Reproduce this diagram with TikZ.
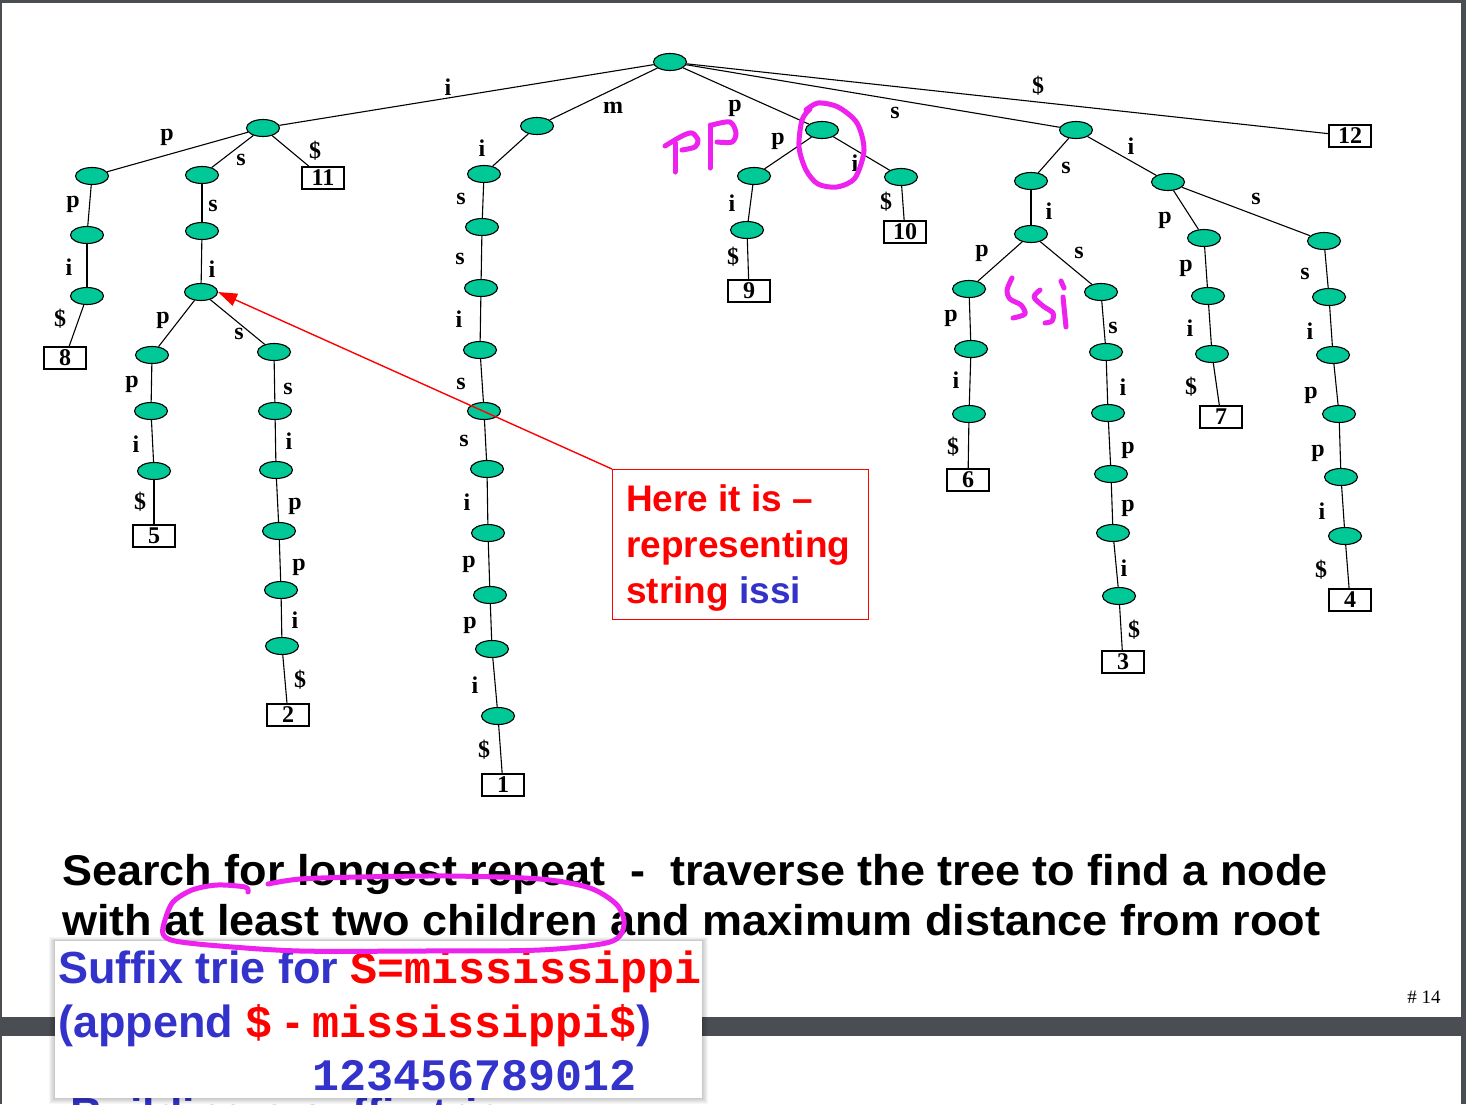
\documentclass[tikz,border=0pt]{standalone}
\usepackage{fontspec}
\usepackage{graphicx}
\setmainfont{Liberation Serif}
\newfontfamily\arial{Liberation Sans}
\newfontfamily\cour{Liberation Mono}
\usetikzlibrary{arrows.meta,shapes.geometric}
\definecolor{tnode}{RGB}{0,200,150}
\definecolor{mag}{RGB}{238,34,238}
\definecolor{dblue}{RGB}{51,51,204}
\definecolor{framec}{RGB}{74,77,81}
\newcommand\TN[2]{\node[tn] (#1) at (#2) {};}
\newcommand\LF[3]{\node[leaf] (#1) at (#2) {#3};}
\newcommand\ED[4]{\draw[edge] (#1) -- (#2) node[lbl] at (#3) {#4};}
\begin{document}
\begin{tikzpicture}[x=1pt,y=-1pt,
  tn/.style={ellipse, draw=black, line width=1.1pt, fill=tnode, minimum width=33pt, minimum height=17pt, inner sep=0pt},
  leaf/.style={draw=black, line width=1.1pt, fill=white, minimum width=42pt, minimum height=22pt, inner sep=0pt, font=\fontsize{24}{26}\selectfont\bfseries},
  lbl/.style={inner sep=0pt, font=\fontsize{24}{26}\selectfont\bfseries},
  edge/.style={line width=1.1pt, black},
  magpen/.style={mag, line width=5pt, line cap=round, line join=round}]
\useasboundingbox (0,0) rectangle (1466,1104);
\fill[white] (0,0) rectangle (1466,1104);
\begin{scope}
\clip (0,0) rectangle (1466,1104);
% frame
\fill[framec] (0,0) rectangle (1466,3);
\fill[framec] (0,0) rectangle (2,1104);
\fill[framec] (1461,0) rectangle (1466,1104);
\fill[framec] (0,1017) rectangle (1466,1036);
% tree nodes
\TN{r}{670,62}
\TN{I}{263,128} \TN{M}{537,126} \TN{P}{822,130} \TN{S}{1076,130}
\LF{L12}{1350,136}{12}
% i branch
\TN{Ip}{92,176} \TN{Is}{202,175} \LF{L11}{323,178}{11}
\TN{Ipp}{87,235} \TN{Ippi}{87,296} \LF{L8}{65,358}{8}
\TN{Iss}{202,231} \TN{Issi}{201,292}
\TN{Issip}{152,355} \TN{Issipp}{151,411} \TN{Issippi}{154,471} \LF{L5}{154,536}{5}
\TN{Isiss}{274,352} \TN{Ia1}{275,411} \TN{Ia2}{276,470} \TN{Ia3}{279,531} \TN{Ia4}{281,590} \TN{Ia5}{282,646} \LF{L2}{288,715}{2}
% m branch
\TN{M1}{484,174} \TN{M2}{482,227} \TN{M3}{481,288} \TN{M4}{480,350} \TN{M5}{484,411}
\TN{M6}{487,469} \TN{M7}{488,533} \TN{M8}{490,595} \TN{M9}{492,649} \TN{M10}{498,716}
\LF{L1}{503,785}{1}
% p branch
\TN{Pp}{754,176} \TN{Pi}{901,177} \TN{Ppi}{747,230} \LF{L9}{749,291}{9} \LF{L10}{905,232}{10}
% s branch
\TN{Ss}{1031,181} \TN{Si}{1168,182} \TN{Ssi}{1031,234} \TN{Ssip}{969,289} \TN{Ssis}{1101,292}
\TN{A1}{971,349} \TN{A2}{969,414} \LF{L6}{968,480}{6}
\TN{B1}{1106,352} \TN{B2}{1108,413} \TN{B3}{1111,474} \TN{B4}{1113,533} \TN{B5}{1119,596} \LF{L3}{1123,662}{3}
\TN{Sip}{1204,238} \TN{Sis}{1324,241}
\TN{C1}{1208,296} \TN{C2}{1212,354} \LF{L7}{1221,417}{7}
\TN{D1}{1329,297} \TN{D2}{1333,355} \TN{D3}{1339,414} \TN{D4}{1341,477} \TN{D5}{1345,536} \LF{L4}{1350,600}{4}
% edges
\ED{r}{I}{448,87}{i} \ED{r}{M}{613,108}{m} \ED{r}{P}{735,108}{p} \ED{r}{S}{895,113}{s} \ED{r}{L12}{1038,86}{\$}
\ED{I}{Ip}{167,137}{p} \ED{I}{Is}{241,160}{s} \ED{I}{L11}{315,151}{\$}
\ED{Ip}{Ipp}{73,204}{p} \ED{Ipp}{Ippi}{69,267}{i} \ED{Ippi}{L8}{60,319}{\$}
\ED{Is}{Iss}{213,206}{s} \ED{Iss}{Issi}{212,269}{i}
\ED{Issi}{Issip}{163,320}{p} \ED{Issi}{Isiss}{239,334}{s}
\ED{Issip}{Issipp}{132,384}{p} \ED{Issipp}{Issippi}{136,444}{i} \ED{Issippi}{L5}{140,502}{\$}
\ED{Isiss}{Ia1}{288,389}{s} \ED{Ia1}{Ia2}{289,441}{i} \ED{Ia2}{Ia3}{295,506}{p} \ED{Ia3}{Ia4}{299,567}{p} \ED{Ia4}{Ia5}{295,620}{i} \ED{Ia5}{L2}{300,680}{\$}
\ED{M}{M1}{482,148}{i} \ED{M1}{M2}{461,199}{s} \ED{M2}{M3}{460,259}{s} \ED{M3}{M4}{459,319}{i} \ED{M4}{M5}{461,384}{s}
\ED{M5}{M6}{464,441}{s} \ED{M6}{M7}{467,502}{i} \ED{M7}{M8}{469,564}{p} \ED{M8}{M9}{470,625}{p} \ED{M9}{M10}{475,685}{i} \ED{M10}{L1}{484,750}{\$}
\ED{P}{Pp}{778,141}{p} \ED{P}{Pi}{855,163}{i} \ED{Pp}{Ppi}{732,203}{i} \ED{Ppi}{L9}{733,257}{\$} \ED{Pi}{L10}{886,202}{\$}
\ED{S}{Ss}{1066,168}{s} \ED{S}{Si}{1131,146}{i} \ED{Ss}{Ssi}{1049,211}{i} \ED{Ssi}{Ssip}{982,253}{p} \ED{Ssi}{Ssis}{1079,253}{s}
\ED{Ssip}{A1}{951,318}{p} \ED{A1}{A2}{956,380}{i} \ED{A2}{L6}{953,447}{\$}
\ED{Ssis}{B1}{1113,328}{s} \ED{B1}{B2}{1123,387}{i} \ED{B2}{B3}{1128,450}{p} \ED{B3}{B4}{1128,508}{p} \ED{B4}{B5}{1124,568}{i} \ED{B5}{L3}{1134,630}{\$}
\ED{Si}{Sip}{1165,220}{p} \ED{Si}{Sis}{1256,199}{s}
\ED{Sip}{C1}{1186,268}{p} \ED{C1}{C2}{1190,328}{i} \ED{C2}{L7}{1191,387}{\$}
\ED{Sis}{D1}{1305,274}{s} \ED{D1}{D2}{1310,331}{i} \ED{D2}{D3}{1311,395}{p} \ED{D3}{D4}{1318,453}{p} \ED{D4}{D5}{1322,511}{i} \ED{D5}{L4}{1321,570}{\$}
% callout
\node[draw=red, line width=1.1pt, minimum width=256pt, minimum height=150pt, inner sep=0pt, anchor=north west] (callout) at (612,469) {};
\node[anchor=north west, align=left, inner sep=0pt, text=red, font=\arial\bfseries\fontsize{37}{46}\selectfont] (calltext) at (626,484) {Here it is –\\representing\\string \textcolor{dblue}{issi}};
\draw[red, line width=1.4pt, -{Triangle[length=19pt,width=13pt]}] (callout.north west) -- (Issi.east);
% main text
\node[anchor=base west, inner sep=0pt, font=\arial\bfseries\fontsize{43}{50}\selectfont] (t1) at (62,885) {\scalebox{1.047}[1]{Search for longest repeat\ \ -\ \ traverse the tree to find a node}};
\node[anchor=base west, inner sep=0pt, font=\arial\bfseries\fontsize{43}{50}\selectfont] (t2) at (62,935) {\scalebox{1.047}[1]{with at least two children and maximum distance from root}};
\node[anchor=center, inner sep=0pt, font=\fontsize{19}{22}\selectfont] (pg) at (1424,997) {\# 14};
% partially hidden heading
\node[anchor=base west, inner sep=0pt, text=dblue, font=\arial\bfseries\fontsize{45}{50}\selectfont] (hidden) at (70,1129) {Building a suffix trie};
% overlay box with shadow
\foreach \k in {1,...,6}{
  \fill[black, opacity=0.035] (55-\k,941-\k*0.6) rectangle (702+\k,1098+\k);
}
\node[fill=white, minimum width=647pt, minimum height=157pt, inner sep=0pt, anchor=north west] (ovl) at (55,941) {};
\node[anchor=base west, inner sep=0pt, font=\fontsize{45}{50}\selectfont\bfseries] (o1) at (58,983) {{\arial\color{dblue}Suffix trie for }{\cour\color{red}S=mississippi}};
\node[anchor=base west, inner sep=0pt, font=\fontsize{45}{50}\selectfont\bfseries] (o2) at (58,1037) {{\arial\color{dblue}(append\ }{\cour\color{red}\$}{\arial\color{red}\ -\ }{\cour\color{red}mississippi\$}{\arial\color{dblue})}};
\node[anchor=base west, inner sep=0pt, font=\fontsize{45}{50}\selectfont\bfseries] (o3) at (58,1090) {\hphantom{\arial(append\ }\hphantom{\cour\$}\hphantom{\arial\ -\ }{\cour\color{dblue}123456789012}};
% magenta annotations
\draw[magpen] (675,143) -- (675,172);
\draw[magpen] plot[smooth] coordinates {(665,146) (682,136) (692,133) (698,140) (695,147) (682,150)};
\draw[magpen] (710,125) -- (710,168);
\draw[magpen] plot[smooth] coordinates {(712,125) (730,122) (736,133) (732,142) (717,142)};
\draw[magpen] plot[smooth] coordinates {(806,110) (818,103) (838,107) (857,123) (864,150) (855,178) (837,187) (818,184) (806,170) (799,147) (802,120) (810,109)};
\draw[magpen] plot[smooth] coordinates {(1012,278) (1007,290) (1010,299) (1021,305) (1025,314) (1013,318)};
\draw[magpen] plot[smooth] coordinates {(1040,290) (1034,297) (1043,306) (1053,313) (1052,321) (1045,323)};
\draw[magpen] (1063,297) -- (1066,327);
\draw[magpen] (1061,281) -- (1064,288);
\draw[magpen] plot[smooth] coordinates {(248,892) (245,887) (217,885) (192,890) (173,902) (165,920) (163,934) (175,941) (220,946) (300,951) (420,951) (540,950) (610,942) (624,925) (617,905) (590,888) (540,879) (450,876) (360,877) (300,879) (268,884)};
\end{scope}
\end{tikzpicture}
\end{document}
